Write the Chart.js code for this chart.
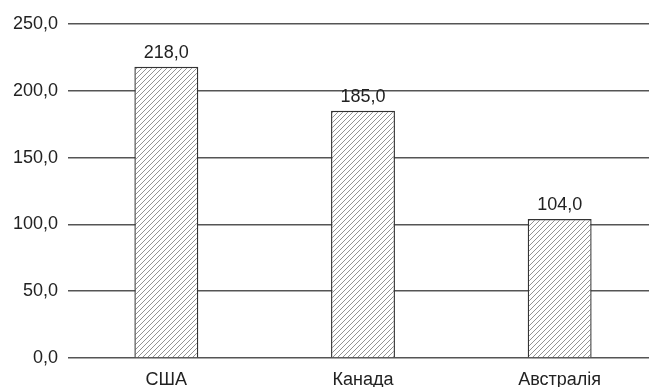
<!DOCTYPE html>
<html>
<head>
<meta charset="utf-8">
<script src="https://cdn.jsdelivr.net/npm/chart.js@4/dist/chart.umd.min.js"></script>
<style>
  html, body { margin: 0; padding: 0; background: #fff; overflow: hidden; }
  #wrap { width: 649px; height: 387px; }
</style>
</head>
<body>
<div id="wrap"><canvas id="chart"></canvas></div>
<script>
const countries = ['США', 'Канада', 'Австралія'];
const amounts = [218, 185, 104];
const yTicks = [0, 50, 100, 150, 200, 250];

const FONT = '"Liberation Sans", Arial, sans-serif';

function fmt(v) {
  return v.toFixed(1).replace('.', ',');
}

// diagonal hatch fill for the bars
function makeHatch() {
  const size = 5;
  const c = document.createElement('canvas');
  c.width = size;
  c.height = size;
  const g = c.getContext('2d');
  g.fillStyle = '#fff';
  g.fillRect(0, 0, size, size);
  g.strokeStyle = '#777';
  g.lineWidth = 0.8;
  g.beginPath();
  g.moveTo(0, size);
  g.lineTo(size, 0);
  g.moveTo(-1, 1);
  g.lineTo(1, -1);
  g.moveTo(size - 1, size + 1);
  g.lineTo(size + 1, size - 1);
  g.stroke();
  return g.createPattern(c, 'repeat');
}

// category slots are spread a bit wider than the visible plot,
// so the last one runs past the right edge
const widenX = {
  id: 'widenX',
  afterLayout(chart) {
    const x = chart.scales.x;
    x.right = x.left + 590;
    x.width = 590;
    x.configure();
  }
};

// value labels above each bar
const valueLabels = {
  id: 'valueLabels',
  afterDatasetsDraw(chart) {
    const ctx = chart.ctx;
    const meta = chart.getDatasetMeta(0);
    ctx.save();
    ctx.font = '18px ' + FONT;
    ctx.fillStyle = '#222';
    ctx.textAlign = 'center';
    ctx.textBaseline = 'alphabetic';
    meta.data.forEach((bar, i) => {
      ctx.fillText(fmt(amounts[i]), bar.x, bar.y - 9);
    });
    ctx.restore();
  }
};

function initChart(el) {
  return new Chart(el, {
    type: 'bar',
    data: {
      labels: countries,
      datasets: [{
        data: amounts,
        backgroundColor: makeHatch(),
        borderColor: '#333',
        borderWidth: 1.4,
        barPercentage: 0.325,
        categoryPercentage: 1
      }]
    },
    options: {
      responsive: true,
      maintainAspectRatio: false,
      animation: false,
      layout: { padding: { top: 24, right: 0, left: 0, bottom: 0 } },
      plugins: {
        legend: { display: false },
        tooltip: { enabled: false }
      },
      scales: {
        x: {
          grid: { display: false },
          border: { display: false },
          ticks: {
            color: '#222',
            padding: 3,
            font: { family: FONT, size: 18 }
          },
          afterFit(scale) { scale.height = 29; }
        },
        y: {
          min: 0,
          max: 250,
          afterBuildTicks(scale) {
            scale.ticks = yTicks.map((v) => ({ value: v }));
          },
          grid: { color: '#555', lineWidth: 1.5, drawTicks: false },
          border: { display: false },
          ticks: {
            color: '#222',
            padding: 10,
            font: { family: FONT, size: 18 },
            callback: (v) => fmt(v)
          },
          afterFit(scale) { scale.width = 68; }
        }
      }
    },
    plugins: [widenX, valueLabels]
  });
}

document.addEventListener('DOMContentLoaded', () => initChart(document.getElementById('chart')));
</script>
</body>
</html>
